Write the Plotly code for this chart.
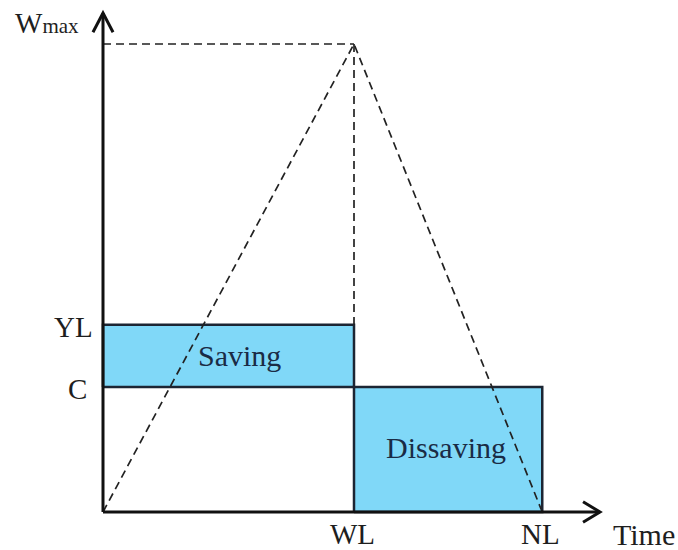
import plotly.graph_objects as go

# Life-cycle saving model (arbitrary units)
WL = 4.0      # end of working life
NL = 7.0      # end of life
W_MAX = 10.0  # peak wealth
YL = 4.0      # income level
C = 2.67      # consumption level

X_END = 7.92   # tip of time axis arrow
Y_END = 10.66  # tip of wealth axis arrow

tick_x_labels = ["WL", "NL"]
tick_y_labels = ["YL", "C"]

FILL = "#80d8f8"
EDGE = "#1c2533"
INK = "#111111"
FONT = "Liberation Serif, Times New Roman, serif"

fig = go.Figure()

# saving block (income above consumption while working)
fig.add_trace(go.Scatter(
    x=[0, WL, WL, 0, 0], y=[C, C, YL, YL, C],
    fill="toself", fillcolor=FILL, mode="lines",
    line=dict(color=EDGE, width=2.5), hoverinfo="skip"))

# dissaving block (consumption paid for from wealth after retirement)
fig.add_trace(go.Scatter(
    x=[WL, NL, NL, WL, WL], y=[0, 0, C, C, 0],
    fill="toself", fillcolor=FILL, mode="lines",
    line=dict(color=EDGE, width=2.5), hoverinfo="skip"))

# wealth path and guide lines
dash = dict(color="#222222", width=1.7, dash="8px,5px")
fig.add_trace(go.Scatter(x=[0, WL, NL], y=[0, W_MAX, 0], mode="lines",
                         line=dash, hoverinfo="skip"))
fig.add_trace(go.Scatter(x=[0, WL], y=[W_MAX, W_MAX], mode="lines",
                         line=dash, hoverinfo="skip"))
fig.add_trace(go.Scatter(x=[WL, WL], y=[W_MAX, YL], mode="lines",
                         line=dash, hoverinfo="skip"))

# axes
fig.add_trace(go.Scatter(x=[0, X_END], y=[0, 0], mode="lines",
                         line=dict(color=INK, width=3), hoverinfo="skip"))
fig.add_trace(go.Scatter(x=[0, 0], y=[0, Y_END], mode="lines",
                         line=dict(color=INK, width=3), hoverinfo="skip"))

# open arrow heads at the axis ends
ax, ay = 0.27, 0.22
fig.add_shape(type="path", path=f"M {X_END-ax},{ay} L {X_END},0 L {X_END-ax},{-ay}",
              line=dict(color=INK, width=3))
ax2, ay2 = 0.16, 0.41
fig.add_shape(type="path", path=f"M {-ax2},{Y_END-ay2} L 0,{Y_END} L {ax2},{Y_END-ay2}",
              line=dict(color=INK, width=3))

lab = dict(family=FONT, size=29, color="#1e1e1e")
for txt, xv in zip(tick_x_labels, [WL, NL]):
    fig.add_annotation(x=xv, y=0, text=txt, showarrow=False, xshift=-2, yshift=-22,
                       font=lab)
fig.add_annotation(x=0, y=YL, text=tick_y_labels[0], showarrow=False, xanchor="right",
                   xshift=-8, yshift=-2, font=lab)
fig.add_annotation(x=0, y=C, text=tick_y_labels[1], showarrow=False, xanchor="right",
                   xshift=-14, yshift=-2, font=lab)
fig.add_annotation(x=X_END, y=0, text="Time", showarrow=False, xanchor="left",
                   xshift=11, yshift=-22, font=dict(family=FONT, size=30, color="#1e1e1e"))
fig.add_annotation(x=0, y=Y_END, text="W<span style='font-size:21px'>max</span>",
                   showarrow=False, xanchor="right", xshift=-22, yshift=-10, font=lab)

body = dict(family=FONT, size=30, color="#1a2b45")
fig.add_annotation(x=WL / 2, y=(C + YL) / 2, text="Saving", showarrow=False,
                   xshift=11, font=body)
fig.add_annotation(x=(WL + NL) / 2, y=C / 2, text="Dissaving", showarrow=False,
                   xshift=-2, yshift=2, font=body)

# ranges chosen so that the origin sits at pixel (103, 512)
fig.update_layout(
    width=678, height=550,
    margin=dict(l=0, r=0, t=0, b=0),
    plot_bgcolor="white", paper_bgcolor="white",
    showlegend=False,
    xaxis=dict(range=[-103 / 62.75, 575 / 62.75], visible=False),
    yaxis=dict(range=[-38 / 46.8, 512 / 46.8], visible=False),
)

fig.write_html("out.html", config={"displayModeBar": False},
               post_script="document.body.style.margin='0';")
